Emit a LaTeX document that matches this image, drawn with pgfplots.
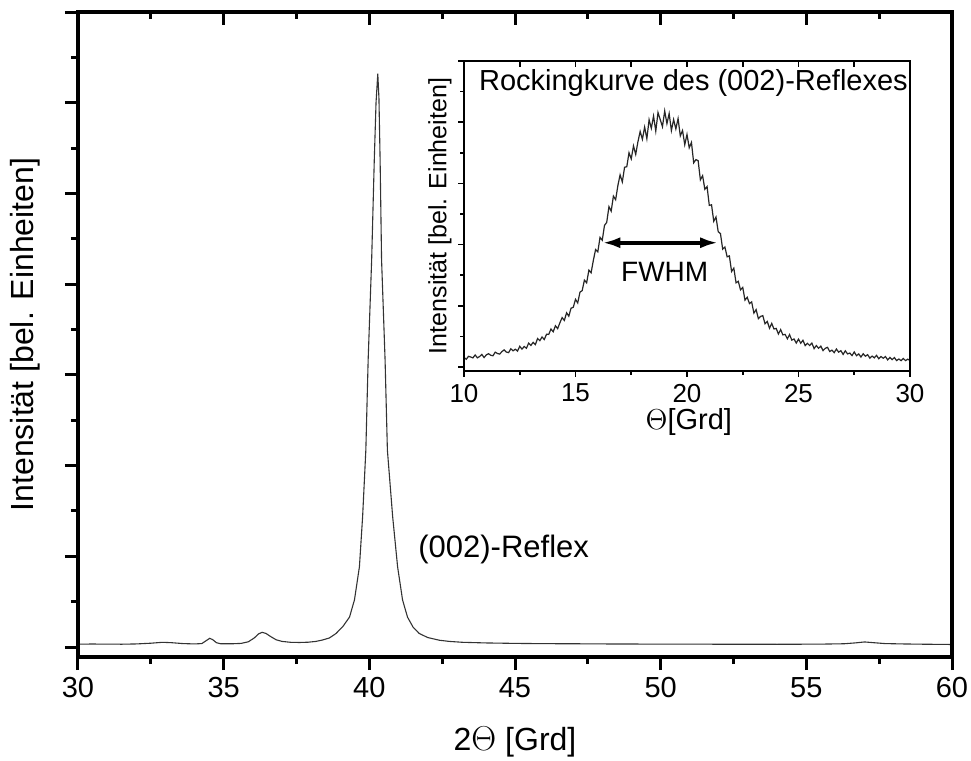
\documentclass[border=0pt]{standalone}
\usepackage{pgfplots}
\pgfplotsset{compat=1.18}
\usepackage{fontspec}
\setmainfont{Liberation Sans}
\usetikzlibrary{arrows.meta}

\pgfplotstableread{
x y
30.0 0.032
30.5 0.033
31.0 0.032
31.5 0.031
32.0 0.034
32.5 0.042
32.9 0.052
33.2 0.048
33.6 0.038
34.0 0.034
34.25 0.038
34.4 0.070
34.52 0.096
34.62 0.082
34.75 0.048
34.9 0.036
35.3 0.036
35.6 0.040
35.85 0.058
36.05 0.100
36.2 0.145
36.32 0.162
36.45 0.150
36.6 0.118
36.8 0.080
37.0 0.062
37.3 0.052
37.6 0.050
37.9 0.053
38.17 0.062
38.4 0.078
38.63 0.100
38.86 0.150
39.1 0.230
39.32 0.330
39.49 0.520
39.66 0.885
39.77 1.440
39.88 2.170
39.96 3.170
40.08 4.270
40.17 5.370
40.23 6.000
40.29 6.320
40.33 6.050
40.37 5.370
40.42 4.270
40.54 3.170
40.62 2.170
40.80 1.440
40.97 0.885
41.14 0.520
41.31 0.330
41.50 0.220
41.71 0.150
42.00 0.105
42.40 0.075
42.74 0.062
43.2 0.052
44.0 0.045
45.0 0.040
46.0 0.037
47.0 0.036
48.0 0.034
50.0 0.032
52.0 0.031
54.0 0.030
55.5 0.032
56.3 0.036
56.7 0.046
57.0 0.056
57.3 0.048
57.7 0.038
58.3 0.034
59.0 0.031
60.0 0.028
}\mainscan

\pgfplotstableread{
x y
10.0 0.160
10.1 0.125
10.2 0.174
10.3 0.163
10.4 0.148
10.5 0.196
10.6 0.149
10.7 0.171
10.8 0.205
10.9 0.154
11.0 0.197
11.1 0.217
11.2 0.191
11.3 0.183
11.4 0.242
11.5 0.220
11.6 0.210
11.7 0.251
11.8 0.279
11.9 0.244
12.0 0.234
12.1 0.297
12.2 0.264
12.3 0.290
12.4 0.259
12.5 0.338
12.6 0.292
12.7 0.334
12.8 0.306
12.9 0.390
13.0 0.352
13.1 0.402
13.2 0.365
13.3 0.465
13.4 0.430
13.5 0.490
13.6 0.448
13.7 0.534
13.8 0.532
13.9 0.620
14.0 0.575
14.1 0.673
14.2 0.626
14.3 0.722
14.4 0.807
14.5 0.760
14.6 0.885
14.7 0.830
14.8 0.960
14.9 0.975
15.0 1.105
15.1 1.046
15.2 1.222
15.3 1.248
15.4 1.419
15.5 1.375
15.6 1.582
15.7 1.539
15.8 1.741
15.9 1.918
16.0 1.880
16.1 2.118
16.2 2.071
16.3 2.314
16.4 2.362
16.5 2.620
16.6 2.546
16.7 2.792
16.8 2.733
16.9 2.964
17.0 3.140
17.1 3.024
17.2 3.263
17.3 3.272
17.4 3.501
17.5 3.400
17.6 3.612
17.7 3.474
17.8 3.681
17.9 3.848
18.0 3.720
18.1 3.920
18.2 3.730
18.3 4.040
18.4 3.900
18.5 4.100
18.6 3.854
18.7 4.158
18.8 4.042
18.9 3.926
19.0 4.185
19.1 3.976
19.2 4.142
19.3 3.863
19.4 4.044
19.5 3.890
19.6 4.058
19.7 3.776
19.8 3.864
19.9 3.632
20.0 3.800
20.1 3.582
20.2 3.669
20.3 3.336
20.4 3.388
20.5 3.370
20.6 3.058
20.7 3.126
20.8 2.904
20.9 2.947
21.0 2.640
21.1 2.650
21.2 2.380
21.3 2.450
21.4 2.210
21.5 2.180
21.6 1.925
21.7 1.960
21.8 1.800
21.9 1.815
22.0 1.560
22.1 1.615
22.2 1.375
22.3 1.400
22.4 1.260
22.5 1.300
22.6 1.092
22.7 1.139
22.8 1.036
22.9 1.063
23.0 0.880
23.1 0.937
23.2 0.789
23.3 0.826
23.4 0.838
23.5 0.705
23.6 0.744
23.7 0.633
23.8 0.712
23.9 0.621
24.0 0.630
24.1 0.538
24.2 0.611
24.3 0.524
24.4 0.532
24.5 0.460
24.6 0.529
24.7 0.438
24.8 0.457
24.9 0.391
25.0 0.455
25.1 0.388
25.2 0.436
25.3 0.349
25.4 0.387
25.5 0.350
25.6 0.390
25.7 0.300
25.8 0.350
25.9 0.305
26.0 0.340
26.1 0.267
26.2 0.304
26.3 0.321
26.4 0.253
26.5 0.275
26.6 0.234
26.7 0.293
26.8 0.242
26.9 0.266
27.0 0.205
27.1 0.264
27.2 0.213
27.3 0.227
27.4 0.186
27.5 0.245
27.6 0.184
27.7 0.213
27.8 0.162
27.9 0.216
28.0 0.175
28.1 0.201
28.2 0.144
28.3 0.178
28.4 0.149
28.5 0.190
28.6 0.134
28.7 0.170
28.8 0.143
28.9 0.170
29.0 0.115
29.1 0.156
29.2 0.120
29.3 0.153
29.4 0.104
29.5 0.130
29.6 0.103
29.7 0.138
29.8 0.104
29.9 0.127
30.0 0.105
}\rocking

\begin{document}
\begin{tikzpicture}
\path[use as bounding box] (-39pt,-52pt) rectangle (446.5pt,328.5pt);
% main axis
\begin{axis}[
  at={(0pt,0pt)}, anchor=south west, scale only axis,
  width=437pt, height=322.5pt,
  xmin=30, xmax=60, ymin=-0.11, ymax=7.0,
  xtick={30,35,...,60}, minor xtick={32.5,37.5,...,57.5},
  ytick={0,1,...,7}, minor ytick={0.5,1.5,...,6.5}, yticklabels={},
  xtick pos=left, ytick pos=left, tick align=outside,
  major tick length=6.5pt, minor tick length=3.5pt,
  axis line style={line width=1.8pt},
  every tick/.style={line width=1.5pt, black},
  /pgf/number format/assume math mode=true,
  tick label style={font=\fontsize{14.5}{16}\selectfont},
  xlabel={2$\Theta$ [Grd]},
  xlabel style={font=\fontsize{16}{18}\selectfont, at={(axis description cs:0.5,-0.132)}, anchor=center},
  ylabel={Intensität [bel. Einheiten]},
  ylabel style={font=\fontsize{16}{18}\selectfont, at={(axis description cs:-0.0606,0.5)}, anchor=center},
  clip=false,
]
\addplot[black!80, line width=0.55pt] table[x=x,y=y] {\mainscan};
\node[anchor=base west, font=\fontsize{15.5}{17}\selectfont] at (axis cs:41.44,0.99) {(002)-Reflex};
\end{axis}
% top ticks (inward)
\begin{axis}[
  at={(0pt,0pt)}, anchor=south west, scale only axis,
  width=437pt, height=322.5pt,
  xmin=30, xmax=60, ymin=-0.11, ymax=7.0,
  xtick={30,35,...,60}, minor xtick={32.5,37.5,...,57.5},
  xticklabels={}, ytick=\empty,
  xtick pos=right, tick align=inside,
  major tick length=6.5pt, minor tick length=3.5pt,
  axis line style={line width=1.8pt},
  every tick/.style={line width=1.5pt, black},
]
\end{axis}
% inset
\begin{axis}[
  at={(193pt,143pt)}, anchor=south west, scale only axis,
  width=223pt, height=155pt,
  xmin=10, xmax=30, ymin=-0.066, ymax=5,
  xtick={10,15,...,30}, minor xtick={12.5,17.5,22.5,27.5},
  ytick={0,1,...,5}, minor ytick={0.5,1.5,...,4.5}, yticklabels={},
  xtick pos=left, ytick pos=left, tick align=outside,
  major tick length=3pt, minor tick length=2pt,
  axis line style={line width=1pt},
  every tick/.style={line width=0.8pt, black},
  axis background/.style={fill=white},
  /pgf/number format/assume math mode=true,
  tick label style={font=\fontsize{13}{15}\selectfont},
  xlabel={$\Theta$[Grd]},
  xlabel style={font=\fontsize{14.5}{16}\selectfont, at={(axis description cs:0.504,-0.165)}, anchor=center},
  ylabel={Intensität [bel. Einheiten]},
  ylabel style={font=\fontsize{12.5}{14}\selectfont, at={(axis description cs:-0.054,0.5)}, anchor=center},
  clip=false,
]
\addplot[black!85, line width=0.6pt] table[x=x,y=y] {\rocking};
\node[anchor=base west, font=\fontsize{14.5}{16}\selectfont] at (axis cs:10.36,4.51) {Rockingkurve des (002)-Reflexes};
\draw[{Latex[length=9pt,width=5.5pt]}-{Latex[length=9pt,width=5.5pt]}, line width=2pt] (axis cs:16.2,2.03) -- (axis cs:21.4,2.03);
\node[font=\fontsize{14}{16}\selectfont] at (axis cs:19.0,1.56) {FWHM};
\end{axis}
\begin{axis}[
  at={(193pt,143pt)}, anchor=south west, scale only axis,
  width=223pt, height=155pt,
  xmin=10, xmax=30, ymin=-0.066, ymax=5,
  xtick={10,15,...,30}, minor xtick={12.5,17.5,22.5,27.5},
  xticklabels={}, ytick=\empty,
  xtick pos=right, tick align=inside,
  major tick length=3pt, minor tick length=3pt,
  axis line style={line width=1pt},
  every tick/.style={line width=0.8pt, black},
]
\end{axis}
\end{tikzpicture}
\end{document}
